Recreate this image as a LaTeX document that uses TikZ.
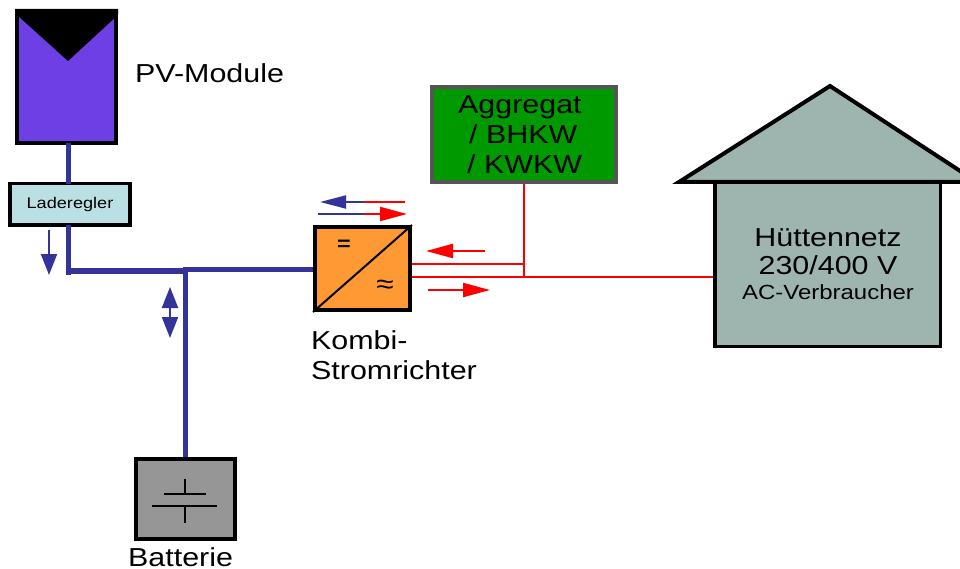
\documentclass[tikz,border=0pt]{standalone}
\usepackage{fontspec}
\setmainfont[FakeStretch=1.17]{Liberation Sans}
\definecolor{clBus}{HTML}{333399}
\definecolor{clPanel}{HTML}{6F3FE6}
\definecolor{clCtrl}{HTML}{BAE0E3}
\definecolor{clInv}{HTML}{FF9933}
\definecolor{clGen}{HTML}{009900}
\definecolor{clGenEdge}{HTML}{555555}
\definecolor{clHouse}{HTML}{9DB5AE}
\definecolor{clBatt}{HTML}{969696}
\usetikzlibrary{arrows.meta}
\tikzset{
  box/.style={rectangle, draw=black, line width=4pt, inner sep=0pt, align=center},
  bus/.style={draw=clBus, line width=5pt},
  acline/.style={draw=red, line width=2.2pt},
  flowbus/.style={-{Triangle[length=21pt,width=16pt]}, draw=clBus, line width=2pt},
  flowac/.style={-{Triangle[length=27pt,width=14pt]}, draw=red, line width=2.2pt},
  plate/.style={draw=black, line width=2pt},
  txt/.style={inner sep=0pt, anchor=west, align=left, font=\fontsize{26}{30}\selectfont},
}
\begin{document}
\begin{tikzpicture}[x=1pt,y=-1pt]
  \useasboundingbox (0,0) rectangle (960,569);
  % wires first, boxes on top
  \coordinate (busA) at (68,271);
  \coordinate (busB) at (185,271);
  \coordinate (busC) at (185,269.5);
  \node[box, fill=clPanel, minimum width=99pt, minimum height=132pt] (pv) at (66.5,77) {};
  \node[box, fill=clCtrl, line width=3.5pt, minimum width=120pt, minimum height=41.5pt, font=\fontsize{15.5}{18}\selectfont] (regler) at (70,204.5) {Laderegler};
  \node[box, fill=clBatt, minimum width=99pt, minimum height=80pt] (batt) at (185.5,499) {};
  \node[box, fill=clInv, minimum width=95pt, minimum height=83pt] (inv) at (362.5,268.5) {};
  \node[box, fill=clGen, draw=clGenEdge, minimum width=184pt, minimum height=95pt] (gen) at (524,134.5) {};
  \node[txt, anchor=north west] (genlabel) at (458,95) {Aggregat\\\hspace*{11pt}/ BHKW\\\hspace*{9pt}/ KWKW};
  \fill[black] (pv.north west) -- (pv.north east) -- ++(0,6) -- (68,61) -- (17,15) -- cycle;
  % bus
  \coordinate (pvdown) at (68,143);
  \coordinate (ctrlup) at (68,184);
  \coordinate (ctrldown) at (68,225);
  \draw[bus] (pvdown) -- (ctrlup);
  \draw[bus] (ctrldown) -- (68,275);
  \draw[bus, line width=5.5pt] (66,271) -- (busB);
  \draw[bus, line width=5.5pt] (busC) -- (inv.west |- busC);
  \draw[bus] (185,267) -- (batt.north -| 185,0);
  % ac side
  \coordinate (acA) at (inv.east |- 0,264);
  \coordinate (acB) at (inv.east |- 0,277);
  \coordinate (tap) at (524,264);
  \coordinate (join) at (524,277);
  \draw[acline] (acA) -- (tap);
  \draw[acline] (acB) -- (join);
  \draw[acline] (gen.south -| tap) -- (join);
  % house
  \fill[clHouse, draw=black, line width=4pt, line join=miter] (679,182) -- (830,86) -- (977,182) -- cycle;
  \node[box, fill=clHouse, line width=3.5pt, minimum width=225.5pt, minimum height=164pt] (house) at (827.5,264.5) {};
  \draw[acline] (join) -- (house.west |- join);
  % flow arrows
  \coordinate (chgA) at (49,230);
  \coordinate (chgB) at (49,275);
  \draw[flowbus] (chgA) -- (chgB);
  \coordinate (battM) at (170,313);
  \coordinate (battA) at (170,287);
  \coordinate (battB) at (170,338);
  \draw[flowbus] (battM) -- (battA);
  \draw[flowbus] (battM) -- (battB);
  \coordinate (backR) at (405,202);
  \coordinate (backM) at (364,202);
  \coordinate (backL) at (320,202);
  \draw[flowbus, -{Triangle[length=26pt,width=13pt]}] (backM) -- (backL);
  \draw[acline] (backR) -- (backM);
  \coordinate (fwdL) at (318,214);
  \coordinate (fwdM) at (364,214);
  \coordinate (fwdR) at (407,214);
  \draw[flowac] (fwdM) -- (fwdR);
  \draw[draw=clBus, line width=2pt] (fwdL) -- (fwdM);
  \coordinate (inR) at (485,251);
  \coordinate (inL) at (426,251);
  \draw[flowac] (inR) -- (inL);
  \coordinate (outL) at (428,290);
  \coordinate (outR) at (490,290);
  \draw[flowac] (outL) -- (outR);
  % symbols
  \coordinate (diagA) at (inv.south west);
  \coordinate (diagB) at (inv.north east);
  \draw[line width=2pt] (diagA) -- (diagB);
  \node[inner sep=0pt, font=\fontsize{20}{24}\bfseries\selectfont] (dcsign) at (344,245.5) {=};
  \node[inner sep=0pt, font=\fontsize{27}{30}\selectfont] (acsign) at (385,286.5) {≈};
  \coordinate (plateA) at (164,494);
  \coordinate (plateB) at (206,494);
  \coordinate (plateC) at (152,505.5);
  \coordinate (plateD) at (217,505.5);
  \coordinate (poleA) at (185,479);
  \coordinate (poleB) at (185,494);
  \coordinate (poleC) at (185,505.5);
  \coordinate (poleD) at (185,523);
  \draw[plate] (plateA) -- (plateB);
  \draw[plate] (plateC) -- (plateD);
  \draw[plate] (poleA) -- (poleB);
  \draw[plate] (poleC) -- (poleD);
  % labels
  \node[txt] (pvlabel) at (135,73) {PV-Module};
  \node[txt, anchor=north west] (invlabel) at (311,330) {Kombi-\\Stromrichter};
  \node[txt] (battlabel) at (128,557.5) {Batterie};
  \node[inner sep=0pt, align=center, font=\fontsize{26}{28}\selectfont] (houselabel) at (828,264) {Hüttennetz\\230/400 V\\[-3pt]{\fontsize{20.5}{24}\selectfont AC-Verbraucher}};
\end{tikzpicture}
\end{document}
